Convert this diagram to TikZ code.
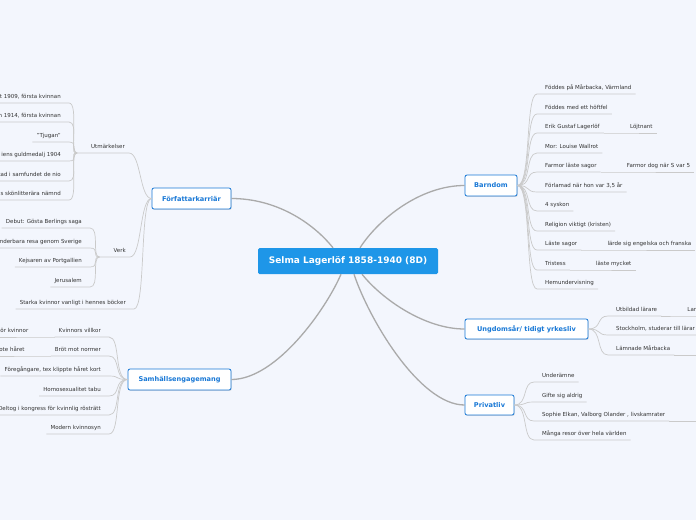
\documentclass[tikz,border=0pt]{standalone}
\usepackage{fontspec}
\setmainfont{DejaVu Sans}
\usepackage{xcolor}
\usepackage{tikz}
\usetikzlibrary{calc}
\usetikzlibrary{shadows}

\definecolor{bgcol}{RGB}{243,246,253}
\definecolor{rootblue}{RGB}{30,150,232}
\definecolor{topicblue}{RGB}{24,120,214}
\definecolor{leaftext}{RGB}{51,51,51}
\definecolor{twiggray}{RGB}{202,202,202}
\definecolor{limbgray}{RGB}{170,170,170}

\begin{document}
\begin{tikzpicture}[x=1pt,y=-1pt,
  root/.style={fill=rootblue,text=white,rounded corners=1.5pt,minimum width=180pt,minimum height=26pt,font=\fontsize{9}{10}\selectfont\bfseries},
  topic/.style={draw=topicblue,line width=0.8pt,fill=white,text=topicblue,rounded corners=2pt,minimum height=21pt,inner xsep=0pt,font=\fontsize{6.6}{8}\selectfont\bfseries,drop shadow={shadow xshift=0.7pt,shadow yshift=-0.9pt,opacity=0.25}},
  leafr/.style={anchor=south west,text=leaftext,font=\fontsize{5.5}{6}\selectfont,inner xsep=4pt,inner ysep=4pt,text depth=0pt,execute at begin node={\hspace*{4pt}}},
  leafl/.style={anchor=south east,text=leaftext,font=\fontsize{5.5}{6}\selectfont,inner xsep=4pt,inner ysep=4pt,text depth=0pt,execute at end node={\hspace*{4pt}}},
  midl/.style={anchor=south east,text=leaftext,font=\fontsize{5.5}{6}\selectfont,inner xsep=4pt,inner ysep=4pt,text depth=0pt,execute at begin node={\hspace*{10pt}}},
  twig/.style={draw=twiggray,line width=0.7pt},
  limb/.style={draw=limbgray,line width=1.3pt}]
\path[use as bounding box,fill=bgcol] (0,0) rectangle (696,520);
\clip (0,0) rectangle (696,520);
\coordinate (edge) at (720,0);

\node[root] (root) at (348,261) {Selma Lagerlöf 1858-1940 (8D)};
\node[topic,minimum width=79pt] (fk) at (191.5,198.5) {Författarkarriär};
\node[topic,minimum width=103pt] (sa) at (179.5,379.5) {Samhällsengagemang};
\node[topic,minimum width=52pt] (bd) at (491,185.5) {Barndom};
\node[topic,minimum width=123pt,minimum height=20pt] (ud) at (526.5,329) {Ungdomsår/ tidigt yrkesliv};
\node[topic,minimum width=49pt,minimum height=20pt] (pl) at (489.5,405) {Privatliv};

\draw[limb] ($(root.north)+(-15,0)$) .. controls +(-20,-25) and +(45,0) .. (fk.east);
\draw[limb] ($(root.north)+(12,0)$) .. controls +(18,-28) and +(-45,0) .. (bd.west);
\draw[limb] ($(root.south)+(-7,0)$) .. controls +(-15,35) and +(45,0) .. (sa.east);
\draw[limb] ($(root.south)+(14,0)$) .. controls +(20,25) and +(-40,0) .. (ud.west);
\draw[limb] ($(root.south)+(6,0)$) .. controls +(15,45) and +(-45,0) .. (pl.west);

% Barndom
\foreach \i/\yy/\txt in {1/94/{Föddes på Mårbacka, Värmland}, 2/114/Föddes med ett höftfel, 3/133/Erik Gustaf Lagerlöf, 4/153/Mor: Louise Wallrot, 5/172/Farmor läste sagor, 6/192/{Förlamad när hon var 3,5 år}, 7/211/4 syskon, 8/231/Religion viktigt (kristen), 9/250/Läste sagor, 10/270/Tristess, 11/289/Hemundervisning}
  {\node[leafr] (b\i) at (537,\yy) {\txt};
   \draw[twig] (bd.east) .. controls +(14,0) and +(-12,0) .. (b\i.south west) -- (b\i.south east);}
\node[leafr] (b3x) at ($(b3.south east)+(18,0)$) {Löjtnant};
\node[leafr] (b5x) at ($(b5.south east)+(18,0)$) {Farmor dog när S var 5};
\node[leafr] (b9x) at ($(b9.south east)+(18,0)$) {lärde sig engelska och franska};
\node[leafr] (b10x) at ($(b10.south east)+(18,0)$) {läste mycket};
\foreach \i in {3,5,9,10}
   \draw[twig] (b\i.south east) -- (b\i x.south west) -- (b\i x.south east);

% Ungdomsaar
\foreach \i/\yy/\txt in {1/316/Utbildad lärare, 2/335/{Stockholm, studerar till lärar}, 3/355/Lämnade Mårbacka}
  {\node[leafr] (u\i) at (608,\yy) {\txt};
   \draw[twig] (ud.east) .. controls +(14,0) and +(-12,0) .. (u\i.south west) -- (u\i.south east);}
\node[leafr] (u1x) at ($(u1.south east)+(18,0)$) {Lar};
\draw[twig] (u1.south east) -- (u1x.south west) -- (u1x.south east) -- (u1x.south east -| edge);
\draw[twig] (u2.south east) -- (u2.south east -| edge);
\draw[twig] (u3.south east) -- (u3.south east -| edge);

% Privatliv
\foreach \i/\yy/\txt in {1/382/Underämne, 2/402/Gifte sig aldrig, 3/421/{Sophie Elkan, Valborg Olander , livskamrater}, 4/440/Många resor över hela världen}
  {\node[leafr] (p\i) at (534,\yy) {\txt};
   \draw[twig] (pl.east) .. controls +(14,0) and +(-12,0) .. (p\i.south west) -- (p\i.south east);}
\draw[twig] (p3.south east) -- (p3.south east -| edge);

% Forfattarkarriar
\node[midl] (utm) at (129,153) {Utmärkelser};
\node[midl] (verk) at (130,257) {Verk};
\node[leafl] (stk) at (134,309) {Starka kvinnor vanligt i hennes böcker};
\foreach \n in {utm,verk,stk}
   \draw[twig] (fk.west) .. controls +(-12,0) and +(12,0) .. (\n.south east) -- (\n.south west);
\foreach \i/\yy/\txt in {1/103/{t 1909, första kvinnan}, 2/122/{n 1914, första kvinnan}, 3/142/"Tjugan", 4/161/iens guldmedalj 1904, 5/181/kad i samfundet de nio, 6/200/s skönlitterära nämnd}
  {\node[leafl] (m\i) at (69,\yy) {\txt};
   \draw[twig] (utm.south west) .. controls +(-8,0) and +(10,0) .. (m\i.south east) -- (m\i.south west);}
\foreach \i/\yy/\txt in {1/228/Debut: Gösta Berlings saga, 2/248/nderbara resa genom Sverige, 3/267/Kejsaren av Portgallien, 4/287/Jerusalem}
  {\node[leafl] (v\i) at (90,\yy) {\txt};
   \draw[twig] (verk.south west) .. controls +(-8,0) and +(10,0) .. (v\i.south east) -- (v\i.south west);}

% Samhallsengagemang
\foreach \i/\yy/\txt in {1/337/Kvinnors villkor, 2/356/Bröt mot normer, 3/376/{Föregångare, tex klippte håret kort}, 4/396/Homosexualitet tabu, 5/415/Deltog i kongress för kvinnlig rösträtt, 6/434/Modern kvinnosyn}
  {\node[leafl] (s\i) at (109,\yy) {\txt};
   \draw[twig] (sa.west) .. controls +(-14,0) and +(12,0) .. (s\i.south east) -- (s\i.south west);}
\node[leafl] (s1x) at ($(s1.south west)+(-18,0)$) {ör kvinnor};
\node[leafl] (s2x) at ($(s2.south west)+(-18,0)$) {ote håret};
\foreach \i in {1,2}
   \draw[twig] (s\i.south west) -- (s\i x.south east) -- (s\i x.south west);
\end{tikzpicture}
\end{document}
